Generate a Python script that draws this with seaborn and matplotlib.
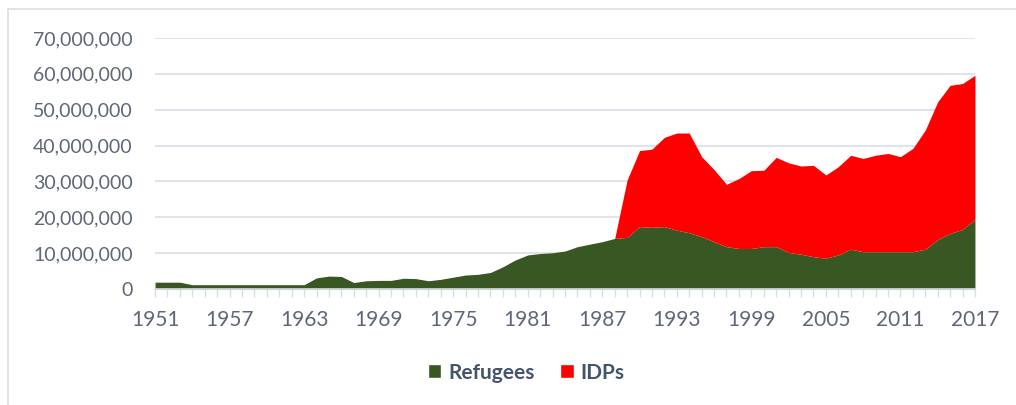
import numpy as np
import pandas as pd
import matplotlib
matplotlib.use("Agg")
import matplotlib.pyplot as plt
import matplotlib.ticker as mticker
from matplotlib.lines import Line2D
from matplotlib.patches import Patch
import seaborn as sns

# Data (millions of people)
years = list(range(1951, 2018))
refugees = [
    1.9, 1.9, 1.9, 1.2, 1.2, 1.2, 1.2, 1.2, 1.2, 1.2,
    1.2, 1.2, 1.2, 3.1, 3.6, 3.5, 1.8, 2.3, 2.4, 2.4,
    3.0, 2.9, 2.3, 2.7, 3.3, 3.9, 4.1, 4.6, 6.2, 8.1,
    9.5, 9.9, 10.1, 10.6, 11.8, 12.5, 13.2, 14.1, 14.4, 17.4,
    17.2, 17.4, 16.4, 15.7, 14.6, 13.2, 11.8, 11.3, 11.3, 11.8,
    11.8, 10.2, 9.7, 9.0, 8.6, 9.5, 11.1, 10.4, 10.4, 10.4,
    10.4, 10.4, 11.1, 13.8, 15.5, 16.6, 19.4,
]
# total displaced (refugees + IDPs) from 1988 on
totals_from_1988 = [
    14.1, 30.4, 38.6, 39.0, 42.3, 43.5, 43.5, 36.9, 33.3, 29.2,
    30.8, 33.0, 33.1, 36.7, 35.2, 34.3, 34.5, 31.8, 34.1, 37.3,
    36.4, 37.3, 37.8, 36.9, 39.2, 44.3, 52.2, 56.8, 57.3, 59.6,
]

df = pd.DataFrame({"year": years, "Refugees": np.array(refugees) * 1e6})
total = [None] * (1988 - 1951) + totals_from_1988
df["IDPs"] = [max(t * 1e6 - r, 0) if t is not None else 0
              for t, r in zip(total, df["Refugees"])]

sns.set_theme(style="white")
plt.rcParams["font.family"] = ["Lato", "DejaVu Sans"]

green = "#385723"
red = "#FF0000"
tick_col = "#5E6777"
grid_col = "#D9DEE6"

fig = plt.figure(figsize=(10.16, 4.05), dpi=100)
ax = fig.add_axes([0.1526, 0.2864, 0.8070, 0.6198])

ax.stackplot(df["year"], df["Refugees"], df["IDPs"],
             colors=[green, red], linewidth=0, labels=["Refugees", "IDPs"])

ax.set_xlim(1951, 2017)
ax.set_ylim(0, 70e6)
ax.yaxis.set_major_locator(mticker.MultipleLocator(10e6))
ax.yaxis.set_major_formatter(mticker.FuncFormatter(lambda v, p: f"{int(v):,}"))
ax.xaxis.set_major_locator(mticker.FixedLocator(list(range(1951, 2018, 6))))
ax.xaxis.set_minor_locator(mticker.MultipleLocator(1))

ax.grid(axis="y", color=grid_col, linewidth=1.2)
ax.set_axisbelow(True)
sns.despine(ax=ax, left=True, top=True, right=True)
ax.spines["bottom"].set_color(grid_col)
ax.spines["bottom"].set_linewidth(1.2)

ax.tick_params(axis="x", which="both", direction="out", length=6, width=1,
               color=grid_col, bottom=True, labelsize=15, labelcolor=tick_col, pad=9)
ax.tick_params(axis="y", length=0, labelsize=14, labelcolor=tick_col, pad=16)
ax.set_xlabel("")
ax.set_ylabel("")

handles = [Patch(facecolor=green, label="Refugees"), Patch(facecolor=red, label="IDPs")]
fig.legend(handles=handles, loc="center", bbox_to_anchor=(0.518, 0.08), ncol=2,
           frameon=False, handlelength=0.65, handleheight=0.65,
           handletextpad=0.35, columnspacing=1.2, labelcolor="#44546A",
           prop={"size": 15, "weight": "bold"})

# outer chart frame (left and top edges visible)
fig.add_artist(Line2D([8 / 1016, 8 / 1016], [0, 1 - 9 / 405], transform=fig.transFigure,
                      color=grid_col, linewidth=1.2))
fig.add_artist(Line2D([8 / 1016, 1], [1 - 9 / 405, 1 - 9 / 405], transform=fig.transFigure,
                      color=grid_col, linewidth=1.2))

fig.savefig("out.png", dpi=100)
